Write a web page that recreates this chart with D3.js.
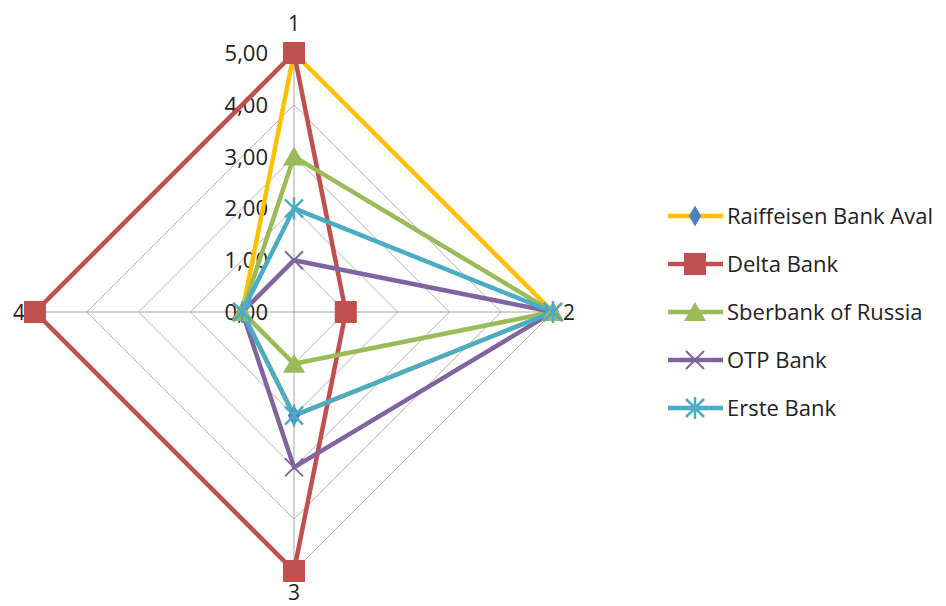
<!DOCTYPE html>
<html><head><meta charset="utf-8">
<script src="https://cdn.jsdelivr.net/npm/d3@7"></script>
<style>body{margin:0;background:#fff}svg{display:block}text{font-family:"Open Sans","Noto Sans",sans-serif}</style>
</head><body><svg id="c" width="946" height="606"></svg>
<script>
const axes = ["1","2","3","4"];
const seriesNames = ["Raiffeisen Bank Aval","Delta Bank","Sberbank of Russia","OTP Bank","Erste Bank"];
const raiffeisen = [5,5,2,1];
const delta = [5,1,5,5];
const sberbank = [3,5,1,1];
const otp = [1,5,3,1];
const erste = [2,5,2,1];
const tickValues = [0,1,2,3,4,5];
const tickLabels = ["0,00","1,00","2,00","3,00","4,00","5,00"];
const colors = ["#FFC000","#C0504D","#9BBB59","#8064A2","#4BACC6"];
const markers = ["diamond","square","triangle","x","star"];
const data = [raiffeisen, delta, sberbank, otp, erste];

const svg = d3.select("#c");
const cx = 294, cy = 312;
const r = d3.scaleLinear().domain([0,5]).range([0,259]);
const ang = i => -Math.PI/2 + i*2*Math.PI/axes.length;
const pt = (i,v) => [cx + r(v)*Math.cos(ang(i)), cy + r(v)*Math.sin(ang(i))];

// grid
const g = svg.append("g");
tickValues.slice(1).forEach(t => {
  g.append("polygon").attr("points", axes.map((a,i)=>pt(i,t).join(",")).join(" "))
   .attr("fill","none").attr("stroke","#b3b3b3").attr("stroke-width",1);
});
axes.forEach((a,i)=>{
  const p = pt(i,5);
  g.append("line").attr("x1",cx).attr("y1",cy).attr("x2",p[0]).attr("y2",p[1]).attr("stroke","#a6a6a6").attr("stroke-width",1);
});
// tick labels
tickValues.forEach((t,k)=>{
  svg.append("text").attr("x",cx-26).attr("y",cy - r(t)+8).attr("text-anchor","end")
    .attr("font-size",22).attr("fill","#222").text(tickLabels[k]);
});
// axis labels
const labOff = [[0,-22],[16,8],[0,29],[-16,8]];
axes.forEach((a,i)=>{
  const p = pt(i,5);
  svg.append("text").attr("x",p[0]+labOff[i][0]).attr("y",p[1]+labOff[i][1]).attr("text-anchor","middle")
    .attr("font-size",21).attr("fill","#222").text(a);
});

function drawMarker(sel, type, x, y, color){
  if(type==="diamond"){
    sel.append("path").attr("d",d3.symbol(d3.symbolDiamond,130)()).attr("transform",`translate(${x},${y})`).attr("fill","#4F81BD");
  } else if(type==="square"){
    sel.append("rect").attr("x",x-11).attr("y",y-11).attr("width",22).attr("height",22).attr("fill",color);
  } else if(type==="triangle"){
    sel.append("path").attr("d",`M${x},${y-10}L${x+11},${y+9}L${x-11},${y+9}Z`).attr("fill",color);
  } else if(type==="x"){
    sel.append("path").attr("d",`M${x-9},${y-9}L${x+9},${y+9}M${x-9},${y+9}L${x+9},${y-9}`).attr("stroke",color).attr("stroke-width",2);
  } else {
    sel.append("path").attr("d",`M${x-9},${y-9}L${x+9},${y+9}M${x-9},${y+9}L${x+9},${y-9}M${x},${y-11}L${x},${y+11}`).attr("stroke",color).attr("stroke-width",2.5);
  }
}

const line = d3.line().curve(d3.curveLinearClosed);
data.forEach((vals,s)=>{
  const pts = vals.map((v,i)=>pt(i,v));
  svg.append("path").attr("d",line(pts)).attr("fill","none").attr("stroke",colors[s]).attr("stroke-width",4.5).attr("stroke-linejoin","round");
});
data.forEach((vals,s)=>{
  vals.forEach((v,i)=>{ const p = pt(i,v); drawMarker(svg, markers[s], p[0], p[1], colors[s]); });
});

// legend
seriesNames.forEach((n,s)=>{
  const y = 216 + s*48;
  svg.append("line").attr("x1",668).attr("x2",723).attr("y1",y).attr("y2",y).attr("stroke",colors[s]).attr("stroke-width",4.5);
  drawMarker(svg, markers[s], 695, y, colors[s]);
  svg.append("text").attr("x",727).attr("y",y+8).attr("font-size",22).attr("fill","#222").text(n);
});
</script></body></html>
